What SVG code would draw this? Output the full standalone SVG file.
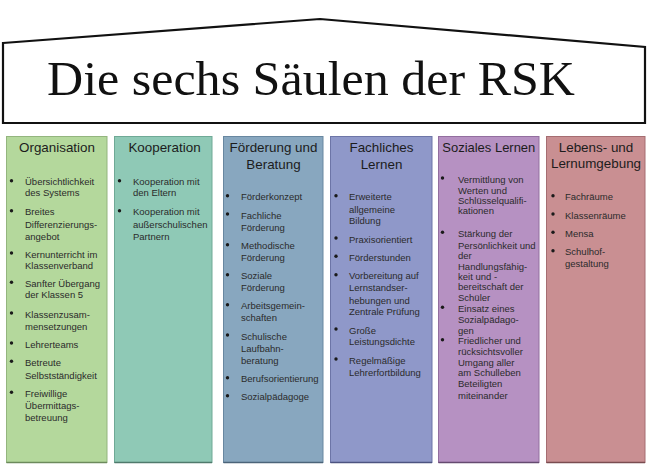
<svg xmlns="http://www.w3.org/2000/svg" xmlns:xlink="http://www.w3.org/1999/xlink" width="650" height="466" viewBox="0 0 650 466">
<defs>
<style>
.col{stroke-width:1}
.hd{font-family:"Liberation Sans",Arial,sans-serif;font-size:13.4px;fill:#1c1c1c;text-anchor:middle}
.it{font-family:"Liberation Sans",Arial,sans-serif;font-size:9.5px;fill:#2b2b2b}
.title{font-family:"Liberation Serif","Times New Roman",serif;font-size:48px;fill:#111}
</style>
<circle id="b" r="1.7" fill="#1a1a1a"/>
</defs>
<rect width="650" height="466" fill="#ffffff"/>
<g id="house">
<polygon points="3,43 320,19 645,47 645,123 3,123" fill="#ffffff" stroke="#111" stroke-width="2.2" stroke-linejoin="miter"/>
<text class="title" x="47" y="95" textLength="528" lengthAdjust="spacingAndGlyphs">Die sechs Säulen der RSK</text>
</g>
<g id="col-organisation">
<rect class="col" x="6.5" y="136.5" width="100.5" height="326" fill="#b4d89c" stroke="#93b57e"/>
<line x1="6.5" y1="462.5" x2="107" y2="462.5" stroke="#6c8a5c" stroke-width="1.5"/>
<text class="hd" x="57" y="152.2">Organisation</text>
<use xlink:href="#b" x="11.5" y="180.7"/>
<use xlink:href="#b" x="11.5" y="210.7"/>
<use xlink:href="#b" x="11.5" y="253"/>
<use xlink:href="#b" x="11.5" y="282.3"/>
<use xlink:href="#b" x="11.5" y="313"/>
<use xlink:href="#b" x="11.5" y="343"/>
<use xlink:href="#b" x="11.5" y="361.3"/>
<use xlink:href="#b" x="11.5" y="392.3"/>
<text class="it"><tspan x="25" y="185.2">Übersichtlichkeit</tspan><tspan x="25" y="196.2">des Systems</tspan><tspan x="25" y="215.2">Breites</tspan><tspan x="25" y="227.8">Differenzierungs-</tspan><tspan x="25" y="239.5">angebot</tspan><tspan x="25" y="257.5">Kernunterricht im</tspan><tspan x="25" y="268.8">Klassenverband</tspan><tspan x="25" y="286.8">Sanfter Übergang</tspan><tspan x="25" y="298.2">der Klassen 5</tspan><tspan x="25" y="317.5">Klassenzusam-</tspan><tspan x="25" y="329.5">mensetzungen</tspan><tspan x="25" y="347.5">Lehrerteams</tspan><tspan x="25" y="365.8">Betreute</tspan><tspan x="25" y="378.5">Selbstständigkeit</tspan><tspan x="25" y="396.8">Freiwillige</tspan><tspan x="25" y="408.5">Übermittags-</tspan><tspan x="25" y="420.8">betreuung</tspan></text>
</g>
<g id="col-kooperation">
<rect class="col" x="114.5" y="136.5" width="97.5" height="326" fill="#8fc9b6" stroke="#6fa996"/>
<line x1="114.5" y1="462.5" x2="212" y2="462.5" stroke="#4f7a6c" stroke-width="1.5"/>
<text class="hd" x="164.5" y="152.2">Kooperation</text>
<use xlink:href="#b" x="119.5" y="180.7"/>
<use xlink:href="#b" x="119.5" y="210.7"/>
<text class="it"><tspan x="133" y="185.2">Kooperation mit</tspan><tspan x="133" y="196.2">den Eltern</tspan><tspan x="133" y="215.2">Kooperation mit</tspan><tspan x="133" y="227.8">außerschulischen</tspan><tspan x="133" y="239.5">Partnern</tspan></text>
</g>
<g id="col-foerderung">
<rect class="col" x="223.5" y="136.5" width="99.5" height="326" fill="#88a7bf" stroke="#6887a0"/>
<line x1="223.5" y1="462.5" x2="323" y2="462.5" stroke="#4b6479" stroke-width="1.5"/>
<text class="hd"><tspan x="273.5" y="152.2">Förderung und</tspan><tspan x="273.5" y="169.2">Beratung</tspan></text>
<use xlink:href="#b" x="227.5" y="195.7"/>
<use xlink:href="#b" x="227.5" y="214"/>
<use xlink:href="#b" x="227.5" y="244.7"/>
<use xlink:href="#b" x="227.5" y="274.7"/>
<use xlink:href="#b" x="227.5" y="304.7"/>
<use xlink:href="#b" x="227.5" y="335"/>
<use xlink:href="#b" x="227.5" y="377.7"/>
<use xlink:href="#b" x="227.5" y="395.7"/>
<text class="it"><tspan x="241" y="200.2">Förderkonzept</tspan><tspan x="241" y="218.5">Fachliche</tspan><tspan x="241" y="230.8">Förderung</tspan><tspan x="241" y="249.2">Methodische</tspan><tspan x="241" y="260.8">Förderung</tspan><tspan x="241" y="279.2">Soziale</tspan><tspan x="241" y="290.8">Förderung</tspan><tspan x="241" y="309.2">Arbeitsgemein-</tspan><tspan x="241" y="321.2">schaften</tspan><tspan x="241" y="339.5">Schulische</tspan><tspan x="241" y="351.8">Laufbahn-</tspan><tspan x="241" y="363.5">beratung</tspan><tspan x="241" y="382.2">Berufsorientierung</tspan><tspan x="241" y="400.2">Sozialpädagoge</tspan></text>
</g>
<g id="col-fachliches">
<rect class="col" x="330.5" y="136.5" width="101.5" height="326" fill="#8f98c9" stroke="#6d75a7"/>
<line x1="330.5" y1="462.5" x2="432" y2="462.5" stroke="#4c5380" stroke-width="1.5"/>
<text class="hd"><tspan x="381.5" y="152.2">Fachliches</tspan><tspan x="381.5" y="169.2">Lernen</tspan></text>
<use xlink:href="#b" x="336" y="195.7"/>
<use xlink:href="#b" x="336" y="238"/>
<use xlink:href="#b" x="336" y="256.3"/>
<use xlink:href="#b" x="336" y="274.7"/>
<use xlink:href="#b" x="336" y="329"/>
<use xlink:href="#b" x="336" y="359"/>
<text class="it"><tspan x="349" y="200.2">Erweiterte</tspan><tspan x="349" y="212.5">allgemeine</tspan><tspan x="349" y="224.2">Bildung</tspan><tspan x="349" y="242.5">Praxisorientiert</tspan><tspan x="349" y="260.8">Förderstunden</tspan><tspan x="349" y="279.2">Vorbereitung auf</tspan><tspan x="349" y="290.8">Lernstandser-</tspan><tspan x="349" y="303.5">hebungen und</tspan><tspan x="349" y="315.2">Zentrale Prüfung</tspan><tspan x="349" y="333.5">Große</tspan><tspan x="349" y="345.2">Leistungsdichte</tspan><tspan x="349" y="363.5">Regelmäßige</tspan><tspan x="349" y="375.8">Lehrerfortbildung</tspan></text>
</g>
<g id="col-soziales">
<rect class="col" x="438.5" y="136.5" width="100.5" height="326" fill="#b691c2" stroke="#926e9f"/>
<line x1="438.5" y1="462.5" x2="539" y2="462.5" stroke="#654a70" stroke-width="1.5"/>
<text class="hd" x="488.8" y="152.2" textLength="93" lengthAdjust="spacingAndGlyphs">Soziales Lernen</text>
<use xlink:href="#b" x="442.5" y="178"/>
<use xlink:href="#b" x="442.5" y="232.3"/>
<use xlink:href="#b" x="442.5" y="307.3"/>
<use xlink:href="#b" x="442.5" y="339.7"/>
<text class="it"><tspan x="458" y="182.5">Vermittlung von</tspan><tspan x="458" y="193.5">Werten  und</tspan><tspan x="458" y="203.5">Schlüsselqualifi-</tspan><tspan x="458" y="214.2">kationen</tspan><tspan x="458" y="236.8">Stärkung der</tspan><tspan x="458" y="248.5">Persönlichkeit und</tspan><tspan x="458" y="258.5">der</tspan><tspan x="458" y="269.5">Handlungsfähig-</tspan><tspan x="458" y="280.2">keit und -</tspan><tspan x="458" y="290.2">bereitschaft der</tspan><tspan x="458" y="301.2">Schüler</tspan><tspan x="458" y="311.8">Einsatz eines</tspan><tspan x="458" y="322.8">Sozialpädago-</tspan><tspan x="458" y="333.5">gen</tspan><tspan x="458" y="344.2">Friedlicher und</tspan><tspan x="458" y="354.8">rücksichtsvoller</tspan><tspan x="458" y="365.8">Umgang aller</tspan><tspan x="458" y="376.2">am Schulleben</tspan><tspan x="458" y="386.8">Beteiligten</tspan><tspan x="458" y="398.5">miteinander</tspan></text>
</g>
<g id="col-lebens">
<rect class="col" x="546.5" y="136.5" width="98.5" height="326" fill="#c98f92" stroke="#a56d71"/>
<line x1="546.5" y1="462.5" x2="645" y2="462.5" stroke="#7a4c50" stroke-width="1.5"/>
<text class="hd"><tspan x="596" y="152.2">Lebens- und</tspan><tspan x="596" y="168.2">Lernumgebung</tspan></text>
<use xlink:href="#b" x="553" y="195.7"/>
<use xlink:href="#b" x="553" y="214"/>
<use xlink:href="#b" x="553" y="232.3"/>
<use xlink:href="#b" x="553" y="250.7"/>
<text class="it"><tspan x="565" y="200.2">Fachräume</tspan><tspan x="565" y="218.5">Klassenräume</tspan><tspan x="565" y="236.8">Mensa</tspan><tspan x="565" y="255.2">Schulhof-</tspan><tspan x="565" y="266.8">gestaltung</tspan></text>
</g>
</svg>
